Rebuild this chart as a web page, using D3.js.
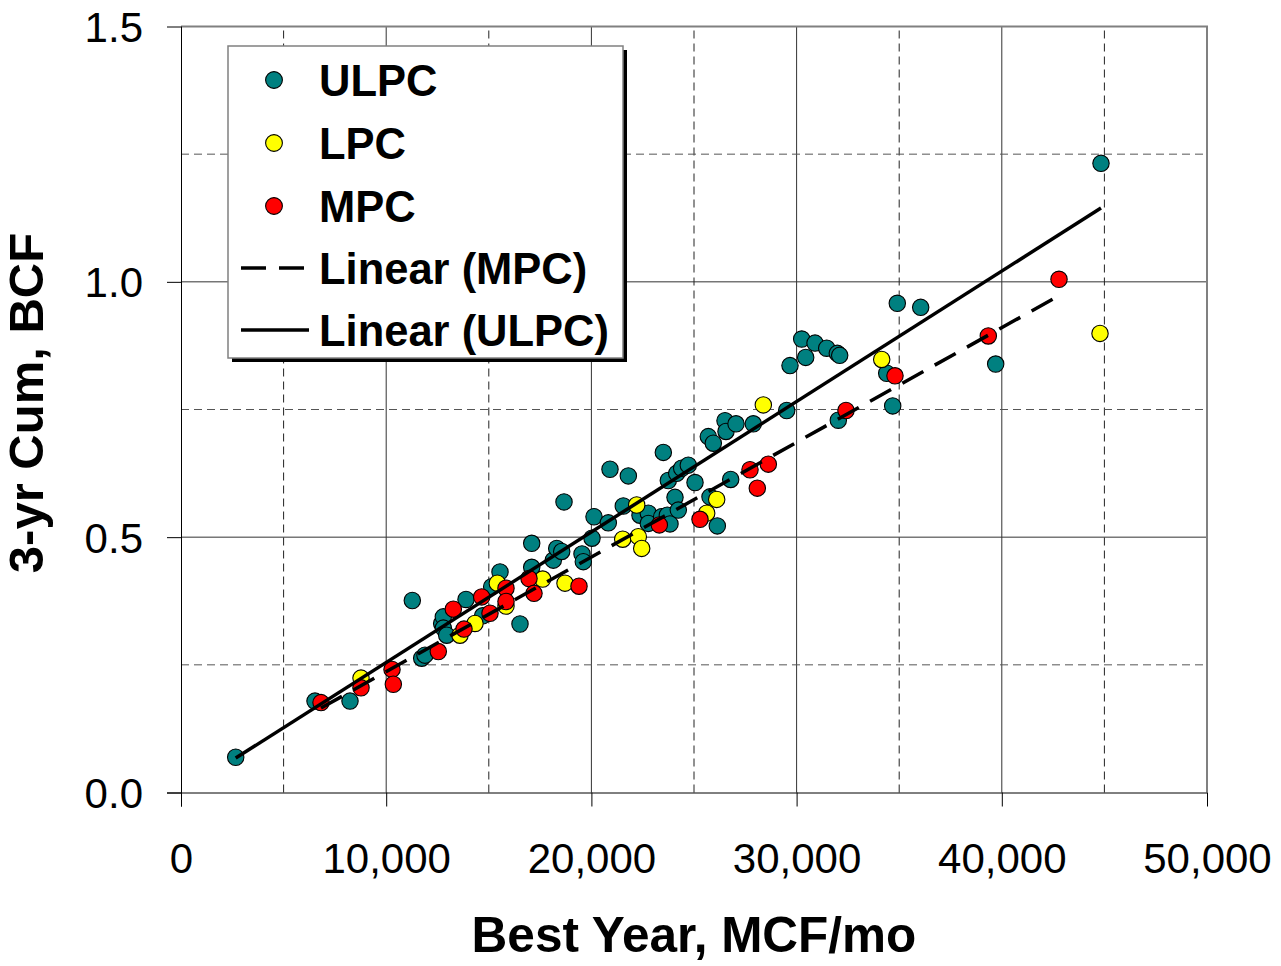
<!DOCTYPE html>
<html>
<head>
<meta charset="utf-8">
<script src="https://cdn.jsdelivr.net/npm/d3@7"></script>
<style>
  body { margin: 0; background: #fff; }
  svg { display: block; }
  text { font-family: "Liberation Sans", Arial, Helvetica, sans-serif; }
</style>
</head>
<body>
<svg id="chart" width="1281" height="966"></svg>
<script>
// Best-year rate (MCF/mo) vs 3-year cumulative production (BCF), by completion type
const ulpcX = [2666, 6530, 8236, 11272, 11730, 11890, 12703, 12784, 12784, 12948,
  13889, 14700, 15141, 15546, 16520, 17091, 17091, 18144, 18309, 18553,
  18665, 19542, 19605, 20029, 20127, 20824, 20906, 21555, 21800, 22368,
  22773, 22773, 23425, 23505, 23700, 23748, 23830, 24074, 24157, 24235,
  24400, 24722, 25049, 25697, 25780, 25941, 26136, 26511, 26559, 26788,
  27047, 27890, 29517, 29678, 30249, 30443, 30897, 31467, 31983, 32100,
  32033, 34391, 34683, 34907, 36047, 39702, 44834];
const ulpcY = [0.069, 0.179, 0.179, 0.376, 0.263, 0.269, 0.331, 0.344, 0.322, 0.308,
  0.378, 0.346, 0.403, 0.432, 0.330, 0.441, 0.488, 0.455, 0.478, 0.472,
  0.569, 0.467, 0.452, 0.498, 0.540, 0.528, 0.633, 0.561, 0.620, 0.543,
  0.547, 0.527, 0.540, 0.666, 0.543, 0.611, 0.526, 0.578, 0.625, 0.553,
  0.635, 0.641, 0.607, 0.697, 0.579, 0.684, 0.522, 0.728, 0.707, 0.613,
  0.722, 0.722, 0.748, 0.836, 0.888, 0.852, 0.880, 0.870, 0.860, 0.856,
  0.729, 0.821, 0.757, 0.958, 0.950, 0.839, 1.232];

const lpcX = [8772, 13596, 14327, 15415, 15838, 17625, 18713, 21525, 22207, 22286,
  22451, 25619, 26106, 28378, 34147, 44786];
const lpcY = [0.224, 0.308, 0.331, 0.410, 0.365, 0.418, 0.410, 0.496, 0.563, 0.501,
  0.478, 0.547, 0.574, 0.759, 0.848, 0.899];

const mpcX = [6823, 8772, 10283, 10347, 12539, 13271, 13791, 14654, 15058, 15838,
  15838, 16959, 17203, 19396, 23310, 25292, 27729, 28085, 28622, 32407,
  34795, 39342, 42788];
const mpcY = [0.176, 0.205, 0.241, 0.212, 0.276, 0.359, 0.320, 0.383, 0.351, 0.400,
  0.374, 0.419, 0.390, 0.404, 0.524, 0.535, 0.632, 0.596, 0.643, 0.748,
  0.816, 0.894, 1.005];

const xTicks = [0, 10000, 20000, 30000, 40000, 50000];
const yTicks = [0, 0.5, 1.0, 1.5];
const xMinor = [5000, 15000, 25000, 35000, 45000];
const yMinor = [0.25, 0.75, 1.25];

const seriesNames = ["ULPC", "LPC", "MPC"];
const seriesColors = ["#008080", "#FFFF00", "#FF0000"];

const svg = d3.select("#chart");
const x = d3.scaleLinear().domain([0, 50000]).range([181, 1207]);
const y = d3.scaleLinear().domain([0, 1.5]).range([792.5, 26.5]);

// gridlines
const grid = svg.append("g");
grid.selectAll(".vmaj").data(xTicks.slice(1, -1)).join("line")
  .attr("x1", d => x(d)).attr("x2", d => x(d))
  .attr("y1", y(0)).attr("y2", y(1.5))
  .attr("stroke", "#333").attr("stroke-width", 1);
grid.selectAll(".hmaj").data(yTicks.slice(1, -1)).join("line")
  .attr("x1", x(0)).attr("x2", x(50000))
  .attr("y1", d => y(d)).attr("y2", d => y(d))
  .attr("stroke", "#333").attr("stroke-width", 1);
grid.selectAll(".vmin").data(xMinor).join("line")
  .attr("x1", d => x(d)).attr("x2", d => x(d))
  .attr("y1", y(0)).attr("y2", y(1.5))
  .attr("stroke", "#222").attr("stroke-width", 1).attr("stroke-dasharray", "8,5");
grid.selectAll(".hmin").data(yMinor).join("line")
  .attr("x1", x(0)).attr("x2", x(50000))
  .attr("y1", d => y(d)).attr("y2", d => y(d))
  .attr("stroke", "#555").attr("stroke-width", 1).attr("stroke-dasharray", "8,5");

// plot-area frame (top and right)
svg.append("path")
  .attr("d", `M${x(0)},${y(1.5)}H${x(50000)}V${y(0)}`)
  .attr("fill", "none").attr("stroke", "#808080").attr("stroke-width", 2);

// axes
const xAxis = d3.axisBottom(x).tickValues(xTicks).tickSize(14).tickSizeOuter(0)
  .tickFormat(d3.format(","));
const yAxis = d3.axisLeft(y).tickValues(yTicks).tickSize(14).tickSizeOuter(0)
  .tickFormat(d3.format(".1f"));

const gx = svg.append("g").attr("transform", `translate(0,${y(0)})`).call(xAxis);
gx.select(".domain").attr("stroke", "#000").attr("d", `M${x(0) - 14},0.5H${x(50000)}`);
gx.selectAll(".tick line").attr("stroke", "#000");
gx.selectAll(".tick text").attr("y", 80).attr("dy", 0)
  .attr("font-size", 42).attr("fill", "#000")
  .style("font-family", '"Liberation Sans", Arial, sans-serif');

const gy = svg.append("g").attr("transform", `translate(${x(0)},0)`).call(yAxis);
gy.select(".domain").attr("stroke", "#000").attr("d", `M0.5,${y(1.5)}V${y(0) + 14}`);
gy.selectAll(".tick line").attr("stroke", "#000");
gy.selectAll(".tick text").attr("x", -38).attr("dy", "0.36em")
  .attr("font-size", 42).attr("fill", "#000")
  .style("font-family", '"Liberation Sans", Arial, sans-serif');

// scatter markers
const series = [
  { xs: ulpcX, ys: ulpcY },
  { xs: lpcX, ys: lpcY },
  { xs: mpcX, ys: mpcY }
];
series.forEach((s, i) => {
  svg.append("g").selectAll("circle")
    .data(s.xs.map((v, k) => [v, s.ys[k]]))
    .join("circle")
    .attr("cx", d => x(d[0])).attr("cy", d => y(d[1]))
    .attr("r", 8.2)
    .attr("fill", seriesColors[i]).attr("stroke", "#000").attr("stroke-width", 1.1);
});

// least-squares trendlines over each series' x range
function linearFit(xs, ys) {
  const n = xs.length;
  const mx = d3.mean(xs), my = d3.mean(ys);
  let sxy = 0, sxx = 0;
  for (let k = 0; k < n; k++) {
    sxy += (xs[k] - mx) * (ys[k] - my);
    sxx += (xs[k] - mx) * (xs[k] - mx);
  }
  const b = sxy / sxx, a = my - b * mx;
  const x0 = d3.min(xs), x1 = d3.max(xs);
  return [[x0, a + b * x0], [x1, a + b * x1]];
}
const line = d3.line().x(d => x(d[0])).y(d => y(d[1]));

svg.append("path").datum(linearFit(mpcX, mpcY)).attr("d", line)
  .attr("fill", "none").attr("stroke", "#000").attr("stroke-width", 3.5)
  .attr("stroke-dasharray", "24,13");
svg.append("path").datum(linearFit(ulpcX, ulpcY)).attr("d", line)
  .attr("fill", "none").attr("stroke", "#000").attr("stroke-width", 3.5);

// axis titles
svg.append("text").attr("x", 694).attr("y", 952).attr("text-anchor", "middle")
  .attr("font-size", 49.5).attr("font-weight", "bold").text("Best Year, MCF/mo");
svg.append("text").attr("transform", "translate(43,403) rotate(-90)")
  .attr("text-anchor", "middle")
  .attr("font-size", 49).attr("font-weight", "bold").text("3-yr Cum, BCF");

// legend
const lg = svg.append("g");
lg.append("rect").attr("x", 232).attr("y", 50).attr("width", 395).attr("height", 312).attr("fill", "#000");
lg.append("rect").attr("x", 228).attr("y", 46).attr("width", 395).attr("height", 312)
  .attr("fill", "#fff").attr("stroke", "#808080").attr("stroke-width", 1.5);

const legendItems = [
  { label: "ULPC", kind: "dot", color: seriesColors[0], cy: 80 },
  { label: "LPC", kind: "dot", color: seriesColors[1], cy: 143 },
  { label: "MPC", kind: "dot", color: seriesColors[2], cy: 206 },
  { label: "Linear (MPC)", kind: "dash", cy: 268 },
  { label: "Linear (ULPC)", kind: "solid", cy: 330 }
];
legendItems.forEach(it => {
  if (it.kind === "dot") {
    lg.append("circle").attr("cx", 274).attr("cy", it.cy).attr("r", 8.4)
      .attr("fill", it.color).attr("stroke", "#000").attr("stroke-width", 1.1);
  } else {
    lg.append("line").attr("x1", 241).attr("x2", it.kind === "dash" ? 304 : 309)
      .attr("y1", it.cy).attr("y2", it.cy)
      .attr("stroke", "#000").attr("stroke-width", 3.5)
      .attr("stroke-dasharray", it.kind === "dash" ? "25,13" : null);
  }
  lg.append("text").attr("x", 319).attr("y", it.cy).attr("dy", "0.36em")
    .attr("font-size", 43.5).attr("font-weight", "bold").text(it.label);
});
</script>
</body>
</html>
